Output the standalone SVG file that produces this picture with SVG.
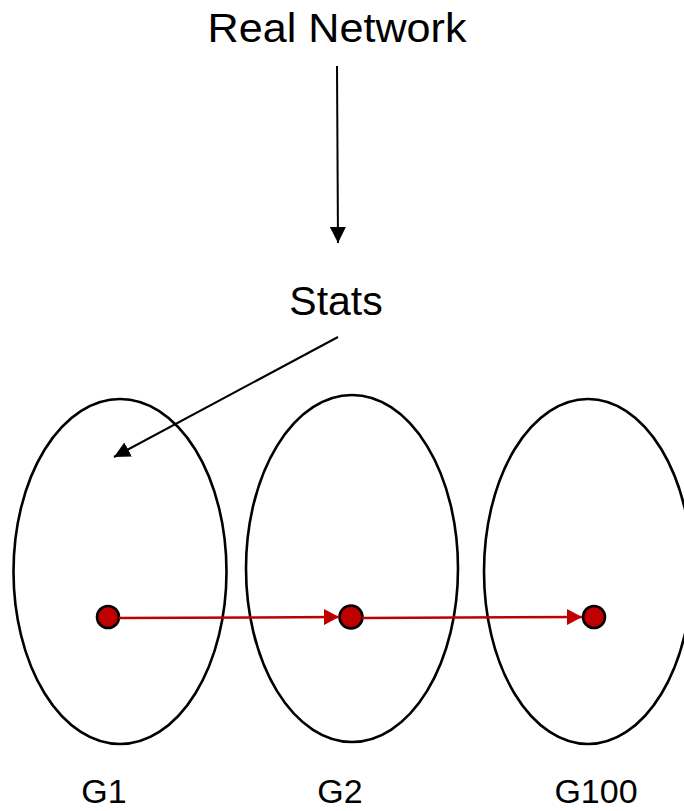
<svg xmlns="http://www.w3.org/2000/svg" width="684" height="811" viewBox="0 0 684 811">
<style>
.t{font-family:"Liberation Sans",Arial,sans-serif;fill:#000}
.grp{fill:none;stroke:#000;stroke-width:2.6}
.dot{fill:#C00000;stroke:#000;stroke-width:2.6}
.blk{stroke:#000;stroke-width:2;fill:none}
.red{stroke:#C00000;stroke-width:2.5;fill:none}
</style>
<defs>
<marker id="ab" markerUnits="userSpaceOnUse" viewBox="0 0 16 16" refX="16" refY="8" markerWidth="16" markerHeight="16" orient="auto"><path d="M0,0 L16,8 L0,16 Z" fill="#000"/></marker>
<marker id="ar" markerUnits="userSpaceOnUse" viewBox="0 0 15 16" refX="15" refY="8" markerWidth="15" markerHeight="16" orient="auto"><path d="M0,0 L15,8 L0,16 Z" fill="#C00000"/></marker>
</defs>
<rect width="684" height="811" fill="#fff"/>
<g id="real-network"><text class="t" x="337" y="42" font-size="41" text-anchor="middle" textLength="259" lengthAdjust="spacingAndGlyphs">Real Network</text></g>
<g id="stats"><text class="t" x="336" y="315" font-size="41" text-anchor="middle">Stats</text></g>
<g id="G1"><ellipse class="grp" cx="120" cy="571.5" rx="106.5" ry="172.5"/><circle class="dot" cx="108" cy="617" r="11"/><text class="t" x="104" y="803" font-size="34" text-anchor="middle">G1</text></g>
<g id="G2"><ellipse class="grp" cx="352" cy="568.5" rx="106" ry="173.5"/><circle class="dot" cx="351" cy="617" r="11.5"/><text class="t" x="340" y="803" font-size="34" text-anchor="middle">G2</text></g>
<g id="G100"><ellipse class="grp" cx="588" cy="571.5" rx="104" ry="172.5"/><circle class="dot" cx="594" cy="617" r="11"/><text class="t" x="596" y="803" font-size="34" text-anchor="middle">G100</text></g>
<g id="connectors">
<line class="blk" x1="337" y1="66" x2="338" y2="243" marker-end="url(#ab)"/>
<line class="blk" x1="338" y1="337" x2="114" y2="457" marker-end="url(#ab)"/>
<line class="red" x1="119" y1="618" x2="339" y2="617" marker-end="url(#ar)"/>
<line class="red" x1="362" y1="618" x2="582" y2="617" marker-end="url(#ar)"/>
</g>
</svg>
